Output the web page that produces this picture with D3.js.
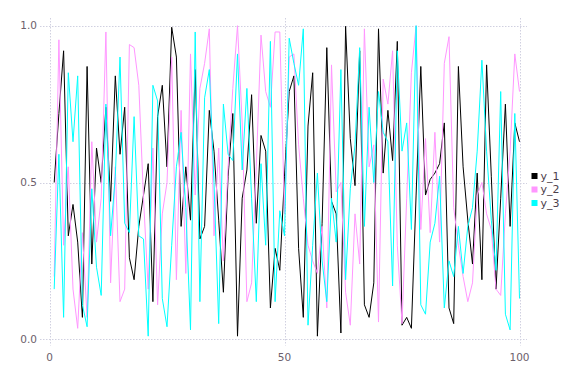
<!DOCTYPE html>
<html><head><meta charset="utf-8">
<script src="https://cdn.jsdelivr.net/npm/d3@7"></script>
<style>
html,body{margin:0;padding:0;background:#fff;}
svg{display:block;}
text{font-family:"DejaVu Sans",sans-serif;}
</style></head>
<body>
<svg id="chart" width="576" height="384"></svg>
<script>
const seriesNames = ["y_1", "y_2", "y_3"];
const seriesColors = ["#000000", "#ff96ff", "#00ffff"];
const xTicks = [0, 50, 100];
const yTicks = [0, 0.5, 1.0];

const y1 = [0.50,0.72,0.92,0.33,0.43,0.31,0.07,0.87,0.24,0.61,
0.50,0.74,0.44,0.84,0.59,0.74,0.26,0.19,0.36,0.46,
0.56,0.12,0.71,0.81,0.55,0.995,0.90,0.36,0.55,0.38,
0.86,0.32,0.36,0.73,0.60,0.38,0.15,0.52,0.72,0.01,
0.45,0.54,0.78,0.37,0.65,0.60,0.10,0.29,0.22,0.52,
0.79,0.84,0.29,0.07,0.68,0.85,0.01,0.37,0.93,0.44,
0.40,0.02,0.998,0.64,0.49,0.92,0.11,0.07,0.18,0.99,
0.53,0.73,0.57,0.95,0.045,0.07,0.035,0.46,0.87,0.46,
0.51,0.53,0.56,0.69,0.10,0.05,0.87,0.55,0.38,0.24,
0.53,0.19,0.875,0.52,0.16,0.45,0.75,0.36,0.69,0.63];

const y2 = [0.20,0.955,0.30,0.55,0.16,0.035,0.34,0.07,0.63,0.31,
0.45,0.98,0.18,0.55,0.12,0.16,0.94,0.93,0.81,0.45,
0.16,0.61,0.11,0.40,0.50,0.90,0.19,0.73,0.21,0.91,
0.46,0.80,0.88,0.99,0.33,0.61,0.25,0.55,0.80,1.0,
0.69,0.12,0.18,0.55,0.97,0.79,0.74,0.98,0.98,0.40,
0.90,0.91,0.62,0.45,0.30,0.25,0.21,0.36,0.10,0.875,
0.47,0.50,0.15,0.045,0.40,0.24,0.99,0.55,0.62,0.055,
0.83,0.75,0.92,0.30,0.05,0.45,0.85,1.0,0.35,0.64,
0.34,0.66,0.31,0.88,0.965,0.42,0.30,0.20,0.12,0.18,
0.46,0.50,0.40,0.35,0.16,0.14,0.40,0.60,0.91,0.79];

const y3 = [0.16,0.59,0.07,0.85,0.63,0.84,0.11,0.04,0.48,0.23,
0.14,0.75,0.33,0.52,0.90,0.37,0.34,0.71,0.33,0.32,
0.01,0.81,0.76,0.13,0.04,0.30,0.55,0.66,0.42,0.03,
0.98,0.12,0.77,0.86,0.50,0.05,0.75,0.59,0.57,0.91,
0.54,0.80,0.45,0.12,0.56,0.30,0.95,0.12,0.41,0.33,
0.96,0.88,0.81,0.99,0.045,0.30,0.53,0.25,0.12,0.45,
0.31,0.86,0.19,0.48,0.62,0.93,0.36,0.74,0.50,0.79,
0.66,0.63,0.17,0.92,0.60,0.69,0.35,1.0,0.11,0.08,
0.31,0.37,0.52,0.10,0.25,0.20,0.36,0.21,0.36,0.42,
0.60,0.89,0.60,0.38,0.22,0.79,0.08,0.03,0.72,0.13];

const seriesValues = [y1, y2, y3];

const svg = d3.select("#chart");
const x = d3.scaleLinear().domain([0, 100]).range([49.5, 519.5]);
const y = d3.scaleLinear().domain([0, 1]).range([339.3, 25.7]);
const panel = {left: 40, right: 527, top: 18, bottom: 345.5};

const grid = svg.append("g");
grid.selectAll("line.h").data(yTicks).join("line")
  .attr("x1", panel.left).attr("x2", panel.right)
  .attr("y1", d => Math.round(y(d)) + 0.5).attr("y2", d => Math.round(y(d)) + 0.5)
  .attr("stroke", "#d0d0e0").attr("stroke-width", 1).attr("stroke-dasharray", "1.5,1.5");
grid.selectAll("line.v").data(xTicks).join("line")
  .attr("y1", panel.top).attr("y2", panel.bottom)
  .attr("x1", d => Math.round(x(d)) + 0.5).attr("x2", d => Math.round(x(d)) + 0.5)
  .attr("stroke", "#d0d0e0").attr("stroke-width", 1).attr("stroke-dasharray", "1.5,1.5");

svg.append("g").selectAll("text").data(yTicks).join("text")
  .attr("x", 37).attr("y", d => y(d)).attr("dy", "0.36em")
  .attr("text-anchor", "end").attr("fill", "#6c606b").attr("font-size", "10.5px")
  .text(d => d3.format(".1f")(d));
svg.append("g").selectAll("text").data(xTicks).join("text")
  .attr("x", d => x(d)).attr("y", 361)
  .attr("text-anchor", "middle").attr("fill", "#6c606b").attr("font-size", "10.5px")
  .text(d => d);

const line = d3.line().x((d, i) => x(i + 1)).y(d => y(d));
const lines = svg.append("g").attr("fill", "none");
seriesValues.forEach((vals, k) => {
  lines.append("path").datum(vals).attr("d", line)
    .attr("stroke", seriesColors[k]).attr("stroke-width", 1)
    .attr("stroke-linejoin", "miter");
});

const leg = svg.append("g");
seriesNames.forEach((n, k) => {
  const cy = 176 + k * 13.5;
  leg.append("rect").attr("x", 531.5).attr("y", cy - 3).attr("width", 6).attr("height", 6)
    .attr("fill", seriesColors[k]);
  leg.append("text").attr("x", 540.5).attr("y", cy).attr("dy", "0.36em")
    .attr("fill", "#4c404b").attr("font-size", "11px").text(n);
});
</script>
</body></html>
